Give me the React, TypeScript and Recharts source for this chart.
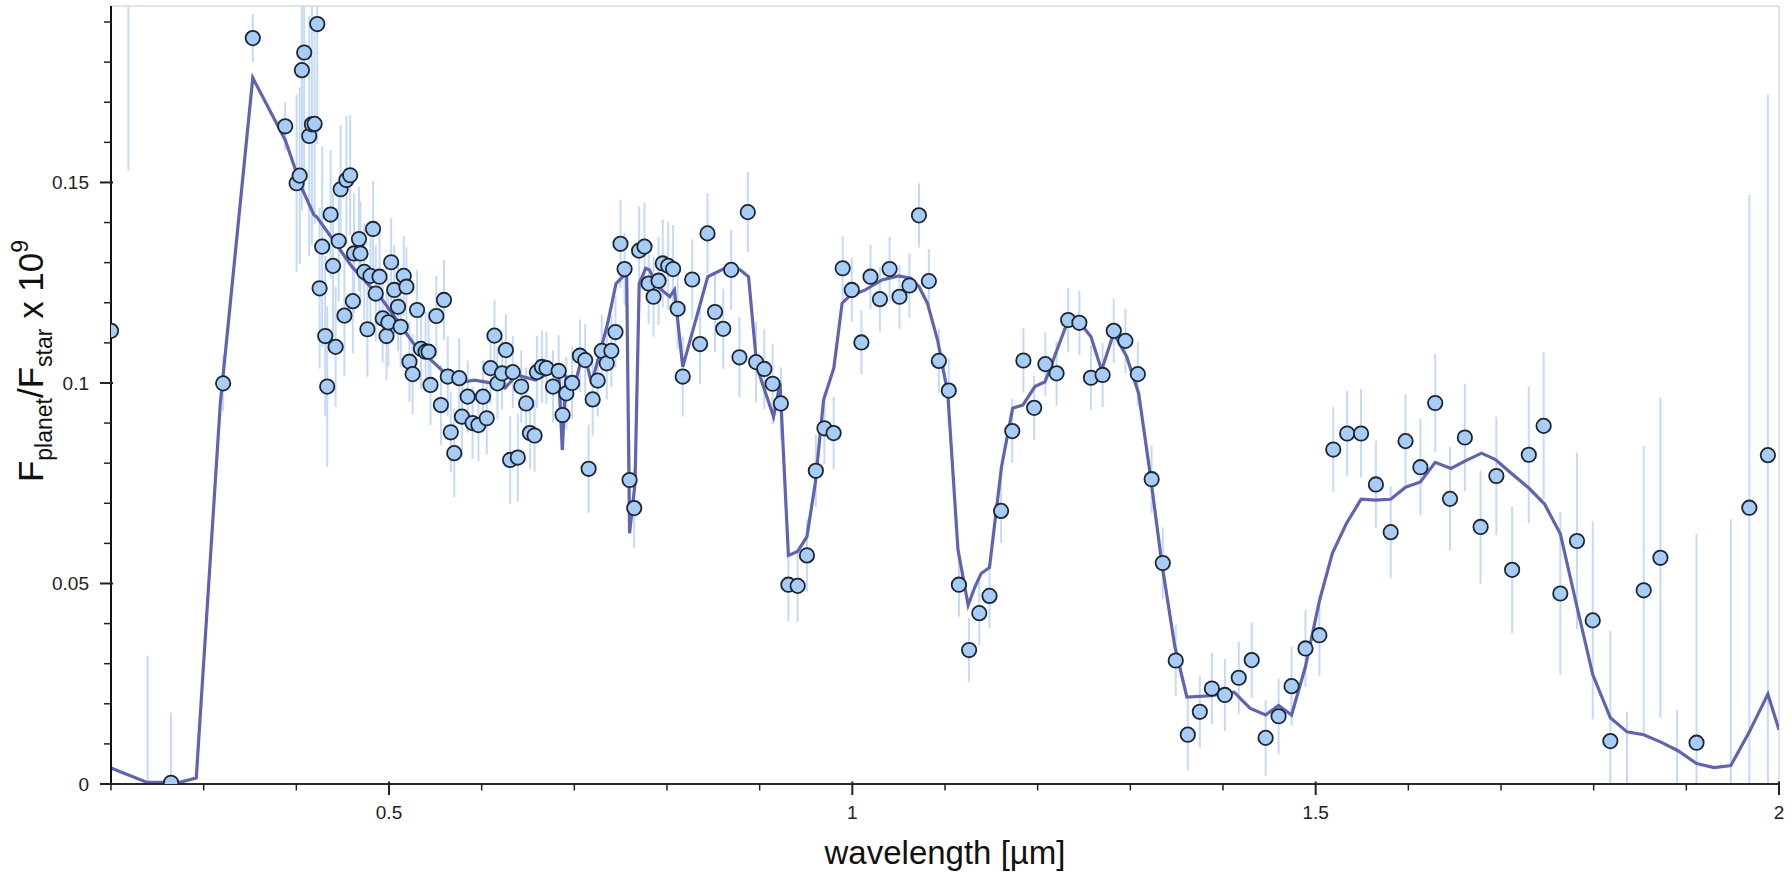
import React from "react";
import { ComposedChart, Line, Scatter, ErrorBar, XAxis, YAxis, ReferenceLine } from "recharts";

const obsX = [0.2, 0.2187, 0.2395, 0.2648, 0.321, 0.353, 0.388, 0.4003, 0.4036, 0.406, 0.4085, 0.4139, 0.4168, 0.4197, 0.4226, 0.4251, 0.4279, 0.4312, 0.4333, 0.437, 0.4396, 0.4424, 0.4457, 0.4478, 0.4519, 0.454, 0.4581, 0.461, 0.4622, 0.4676, 0.4692, 0.4733, 0.4767, 0.48, 0.4828, 0.4857, 0.4898, 0.4932, 0.4973, 0.4993, 0.5023, 0.5056, 0.5097, 0.5126, 0.5159, 0.5188, 0.5221, 0.5255, 0.5303, 0.5345, 0.5395, 0.5427, 0.5448, 0.5511, 0.556, 0.5593, 0.5634, 0.5667, 0.5704, 0.5758, 0.5787, 0.5849, 0.5902, 0.5965, 0.6014, 0.6055, 0.6096, 0.6138, 0.617, 0.622, 0.6261, 0.6307, 0.6336, 0.639, 0.6427, 0.648, 0.6521, 0.6571, 0.6596, 0.665, 0.6699, 0.677, 0.6831, 0.6873, 0.6914, 0.6976, 0.706, 0.7117, 0.7154, 0.7198, 0.7252, 0.7296, 0.735, 0.74, 0.7444, 0.7498, 0.7542, 0.7596, 0.7646, 0.7699, 0.7757, 0.7802, 0.7855, 0.7909, 0.7954, 0.8013, 0.8066, 0.8115, 0.817, 0.8272, 0.8357, 0.8437, 0.8518, 0.8607, 0.8693, 0.8782, 0.8872, 0.8961, 0.905, 0.914, 0.9229, 0.931, 0.941, 0.951, 0.9606, 0.9699, 0.9798, 0.9896, 0.9994, 1.0098, 1.0196, 1.0298, 1.0402, 1.0509, 1.0616, 1.0719, 1.0826, 1.0934, 1.1041, 1.115, 1.126, 1.137, 1.148, 1.1605, 1.1726, 1.1846, 1.1962, 1.2083, 1.2204, 1.2329, 1.245, 1.2575, 1.2701, 1.2821, 1.2947, 1.3081, 1.323, 1.335, 1.349, 1.362, 1.375, 1.388, 1.402, 1.417, 1.431, 1.446, 1.46, 1.474, 1.489, 1.504, 1.519, 1.534, 1.549, 1.565, 1.581, 1.597, 1.613, 1.629, 1.645, 1.661, 1.678, 1.695, 1.712, 1.73, 1.746, 1.764, 1.782, 1.799, 1.818, 1.836, 1.854, 1.872, 1.89, 1.911, 1.948, 1.968, 1.988];

const obsY = [0.113, 0.23, -0.01, 0.0003, 0.0999, 0.186, 0.164, 0.1498, 0.1517, 0.178, 0.1824, 0.1616, 0.1645, 0.1646, 0.1895, 0.1236, 0.134, 0.1117, 0.0991, 0.142, 0.1292, 0.109, 0.1354, 0.1483, 0.1168, 0.1506, 0.1518, 0.1204, 0.1323, 0.1359, 0.1323, 0.1277, 0.1134, 0.1267, 0.1384, 0.1223, 0.1265, 0.1161, 0.1117, 0.1151, 0.1301, 0.1232, 0.119, 0.114, 0.1267, 0.124, 0.1053, 0.1022, 0.1182, 0.1085, 0.1078, 0.1078, 0.0995, 0.1167, 0.0945, 0.1207, 0.1016, 0.0877, 0.0825, 0.1012, 0.0916, 0.0966, 0.09, 0.0895, 0.0966, 0.0912, 0.1037, 0.1118, 0.0999, 0.1024, 0.1082, 0.0808, 0.1027, 0.0814, 0.0991, 0.0949, 0.0875, 0.0869, 0.1027, 0.104, 0.1037, 0.0991, 0.103, 0.092, 0.0974, 0.1, 0.1068, 0.1057, 0.0786, 0.0959, 0.1006, 0.108, 0.1049, 0.108, 0.1127, 0.1347, 0.1284, 0.0758, 0.0688, 0.133, 0.134, 0.1248, 0.1215, 0.1255, 0.1298, 0.1292, 0.1284, 0.1185, 0.1016, 0.1258, 0.1097, 0.1373, 0.1177, 0.1135, 0.1282, 0.1064, 0.1426, 0.1052, 0.1035, 0.0998, 0.0949, 0.0497, 0.0494, 0.057, 0.0781, 0.0887, 0.0875, 0.1286, 0.1232, 0.1101, 0.1265, 0.1209, 0.1284, 0.1215, 0.1243, 0.1418, 0.1254, 0.1055, 0.0981, 0.0497, 0.0334, 0.0426, 0.0469, 0.0681, 0.088, 0.1056, 0.0938, 0.1047, 0.1024, 0.1157, 0.115, 0.1013, 0.102, 0.113, 0.1105, 0.1022, 0.076, 0.0551, 0.0308, 0.0123, 0.018, 0.0238, 0.0222, 0.0265, 0.0309, 0.0115, 0.0169, 0.0244, 0.0338, 0.0371, 0.0834, 0.0874, 0.0874, 0.0747, 0.0628, 0.0855, 0.079, 0.095, 0.0711, 0.0864, 0.0641, 0.0768, 0.0534, 0.0821, 0.0893, 0.0475, 0.0606, 0.0408, 0.0107, -0.012, 0.0483, 0.0564, -0.02, 0.0103, -0.005, 0.0689, 0.082];

const obsErr = [0.004, 0.077, 0.042, 0.0175, 0.007, 0.006, 0.006, 0.022, 0.022, 0.035, 0.035, 0.03, 0.03, 0.025, 0.03, 0.02, 0.025, 0.02, 0.02, 0.016, 0.018, 0.015, 0.015, 0.016, 0.015, 0.016, 0.015, 0.013, 0.015, 0.013, 0.013, 0.012, 0.012, 0.012, 0.012, 0.012, 0.011, 0.011, 0.011, 0.011, 0.011, 0.011, 0.011, 0.01, 0.01, 0.01, 0.01, 0.01, 0.01, 0.01, 0.01, 0.01, 0.01, 0.01, 0.01, 0.01, 0.01, 0.01, 0.011, 0.01, 0.01, 0.009, 0.009, 0.009, 0.009, 0.009, 0.009, 0.009, 0.009, 0.009, 0.009, 0.011, 0.009, 0.011, 0.009, 0.009, 0.009, 0.009, 0.009, 0.009, 0.009, 0.009, 0.009, 0.009, 0.009, 0.009, 0.009, 0.009, 0.011, 0.009, 0.009, 0.009, 0.009, 0.009, 0.009, 0.011, 0.009, 0.01, 0.01, 0.011, 0.011, 0.01, 0.01, 0.011, 0.011, 0.011, 0.011, 0.01, 0.01, 0.01, 0.01, 0.01, 0.01, 0.01, 0.01, 0.01, 0.01, 0.01, 0.01, 0.01, 0.009, 0.009, 0.009, 0.009, 0.009, 0.009, 0.009, 0.008, 0.008, 0.008, 0.008, 0.008, 0.008, 0.008, 0.008, 0.008, 0.008, 0.008, 0.008, 0.008, 0.008, 0.008, 0.008, 0.008, 0.008, 0.008, 0.008, 0.008, 0.008, 0.008, 0.008, 0.008, 0.008, 0.008, 0.008, 0.008, 0.0084, 0.0089, 0.0089, 0.0089, 0.0089, 0.0089, 0.009, 0.009, 0.0094, 0.0094, 0.0094, 0.0099, 0.0096, 0.0101, 0.0106, 0.0106, 0.011, 0.0109, 0.0114, 0.0116, 0.012, 0.0123, 0.0129, 0.0134, 0.0141, 0.0148, 0.0158, 0.017, 0.0183, 0.0203, 0.022, 0.0247, 0.0275, 0.03, 0.036, 0.04, 0.0385, 0.052, 0.071, 0.078, 0.09];

const modelX = [0.2, 0.239, 0.274, 0.292, 0.318, 0.353, 0.388, 0.406, 0.419, 0.422, 0.44, 0.46, 0.493, 0.526, 0.572, 0.592, 0.613, 0.625, 0.638, 0.658, 0.683, 0.687, 0.691, 0.701, 0.71, 0.7185, 0.7275, 0.736, 0.745, 0.754, 0.7565, 0.7596, 0.7655, 0.77, 0.777, 0.781, 0.79, 0.803, 0.808, 0.817, 0.844, 0.866, 0.879, 0.888, 0.897, 0.915, 0.922, 0.931, 0.941, 0.951, 0.96, 0.969, 0.98, 0.989, 0.996, 1.014, 1.032, 1.05, 1.063, 1.072, 1.081, 1.092, 1.103, 1.114, 1.125, 1.132, 1.139, 1.148, 1.161, 1.173, 1.184, 1.197, 1.208, 1.233, 1.246, 1.2575, 1.269, 1.282, 1.296, 1.309, 1.321, 1.334, 1.348, 1.361, 1.387, 1.412, 1.429, 1.446, 1.46, 1.474, 1.489, 1.504, 1.518, 1.533, 1.549, 1.564, 1.581, 1.597, 1.613, 1.629, 1.646, 1.661, 1.679, 1.694, 1.712, 1.73, 1.747, 1.764, 1.782, 1.799, 1.818, 1.836, 1.854, 1.872, 1.891, 1.911, 1.93, 1.948, 1.968, 1.988, 2.0];

const modelY = [0.004, 0.0004, 0.0004, 0.0015, 0.095, 0.1761, 0.1606, 0.1485, 0.1419, 0.1414, 0.1356, 0.129, 0.1207, 0.11, 0.0999, 0.1007, 0.0999, 0.0987, 0.102, 0.1007, 0.1036, 0.0833, 0.1016, 0.0999, 0.1082, 0.0999, 0.1074, 0.1149, 0.1248, 0.1269, 0.1265, 0.0625, 0.075, 0.1248, 0.1286, 0.1282, 0.124, 0.1215, 0.1232, 0.104, 0.1265, 0.129, 0.1282, 0.1265, 0.104, 0.0916, 0.0999, 0.057, 0.058, 0.0617, 0.075, 0.0958, 0.1037, 0.1199, 0.1215, 0.1232, 0.1257, 0.1267, 0.1261, 0.124, 0.1199, 0.1107, 0.0974, 0.0584, 0.0446, 0.049, 0.0525, 0.054, 0.0791, 0.0937, 0.0945, 0.0991, 0.1003, 0.1157, 0.1149, 0.1115, 0.1032, 0.1124, 0.1066, 0.0974, 0.078, 0.055, 0.0343, 0.0217, 0.022, 0.0229, 0.0189, 0.0172, 0.0196, 0.0172, 0.0293, 0.0456, 0.0575, 0.0649, 0.071, 0.0708, 0.071, 0.074, 0.0753, 0.0802, 0.0787, 0.0805, 0.0825, 0.0809, 0.0773, 0.0738, 0.0698, 0.0624, 0.0442, 0.0273, 0.0165, 0.013, 0.0123, 0.0105, 0.0083, 0.0051, 0.0041, 0.0046, 0.013, 0.0224, 0.0135];

const xTicks = [0.2, 0.3, 0.4, 0.5, 0.6, 0.7, 0.8, 0.9, 1.0, 1.1, 1.2, 1.3, 1.4, 1.5, 1.6, 1.7, 1.8, 1.9, 2.0];
const xMajor: Record<string, string> = { "0.5": "0.5", "1": "1", "1.5": "1.5", "2": "2" };
const yTicks = [0, 0.01, 0.02, 0.03, 0.04, 0.05, 0.06, 0.07, 0.08, 0.09, 0.1, 0.11, 0.12, 0.13, 0.14, 0.15, 0.16, 0.17, 0.18, 0.19];
const yMajor: Record<string, string> = { "0": "0", "0.05": "0.05", "0.1": "0.1", "0.15": "0.15" };

const X_DOMAIN: [number, number] = [0.2, 2];
const Y_DOMAIN: [number, number] = [0, 0.194];

const obsData = obsX.map((x, i) => ({ x, y: obsY[i], val: obsY[i], err: obsErr[i] }));
const modelData = modelX.map((x, i) => ({ x, y: modelY[i] }));

// error bar extent limited to the visible plot range (bars stop at the frame)
const errExtent = (d: any) => {
  const src = d && d.val !== undefined ? d : d && d.payload ? d.payload : d;
  const v = src.val;
  const e = src.err;
  const lo = Math.max(v - e, Y_DOMAIN[0]);
  const hi = Math.min(v + e, Y_DOMAIN[1]);
  return [v - lo, hi - v];
};

const FONT = "'Liberation Sans', Arial, Helvetica, sans-serif";
const INK = "#222222";

const XTick = (props: any) => {
  const { x, y, payload } = props;
  const key = String(Number(payload.value.toFixed(2)));
  const label = xMajor[key];
  const major = label !== undefined;
  return (
    <g>
      <line x1={x} x2={x} y1={major ? y - 2.5 : y} y2={major ? y + 11 : y + 6.5} stroke={INK} strokeWidth={major ? 2 : 1.5} />
      {major && (
        <text x={x} y={y + 35} textAnchor="middle" fontSize={19} fill={INK} fontFamily={FONT}>
          {label}
        </text>
      )}
    </g>
  );
};

const YTick = (props: any) => {
  const { x, y, payload } = props;
  const key = String(Number(payload.value.toFixed(3)));
  const label = yMajor[key];
  const major = label !== undefined;
  return (
    <g>
      <line x1={major ? x - 11 : x - 7} x2={major ? x + 2 : x} y1={y} y2={y} stroke={INK} strokeWidth={major ? 2 : 1.5} />
      {major && (
        <text x={x - 22} y={y + 7} textAnchor="end" fontSize={19} fill={INK} fontFamily={FONT}>
          {label}
        </text>
      )}
    </g>
  );
};

const YTitle = () => (
  <text transform="translate(43,361) rotate(-90)" textAnchor="middle" fontSize={35} fill="#111" fontFamily={FONT}>
    F<tspan fontSize={23} dy={9}>planet</tspan>
    <tspan dy={-9}>/F</tspan>
    <tspan fontSize={23} dy={9}>star</tspan>
    <tspan dy={-9}> x 10</tspan>
    <tspan fontSize={23} dy={-15}>9</tspan>
  </text>
);

const XTitle = () => (
  <text x={945} y={864} textAnchor="middle" fontSize={33} fill="#111" fontFamily={FONT}>
    wavelength [µm]
  </text>
);

const Dot = (props: any) => {
  const { cx, cy } = props;
  if (cx == null || cy == null) return <g />;
  return <circle cx={cx} cy={cy} r={7.2} fill="#a7cdf6" stroke="#1c2633" strokeWidth={1.8} />;
};

const NoDot = () => <g />;

export default function App() {
  return (
    <div style={{ position: "absolute", left: 0, top: 0, width: 1792, height: 873, background: "#fff", fontFamily: FONT }}>
      <ComposedChart width={1792} height={873} margin={{ top: 6, right: 13, bottom: 0, left: 0 }}>
        <XAxis
          type="number"
          dataKey="x"
          domain={X_DOMAIN}
          allowDataOverflow
          ticks={xTicks}
          interval={0}
          tick={<XTick />}
          tickLine={false}
          tickSize={0}
          tickMargin={0}
          height={89}
          axisLine={{ stroke: "#2a2a2a", strokeWidth: 2.2 }}
          label={<XTitle />}
        />
        <YAxis
          type="number"
          dataKey="y"
          domain={Y_DOMAIN}
          allowDataOverflow
          ticks={yTicks}
          interval={0}
          tick={<YTick />}
          tickLine={false}
          tickSize={0}
          tickMargin={0}
          width={111}
          axisLine={{ stroke: "#111", strokeWidth: 2 }}
          label={<YTitle />}
        />
        <ReferenceLine y={Y_DOMAIN[1]} stroke="#e4e4e4" strokeWidth={2} />
        <ReferenceLine x={X_DOMAIN[1]} stroke="#e4e4e4" strokeWidth={2} />
        <Scatter data={obsData} dataKey="y" shape={<NoDot />} isAnimationActive={false}>
          <ErrorBar dataKey={errExtent} direction="y" width={0} stroke="#c4daf6" strokeWidth={2} isAnimationActive={false} />
        </Scatter>
        <Line data={modelData} dataKey="y" type="linear" stroke="#6064b0" strokeWidth={3.2} dot={false} activeDot={false} isAnimationActive={false} />
        <Scatter data={obsData} dataKey="y" shape={<Dot />} isAnimationActive={false} />
      </ComposedChart>
    </div>
  );
}
